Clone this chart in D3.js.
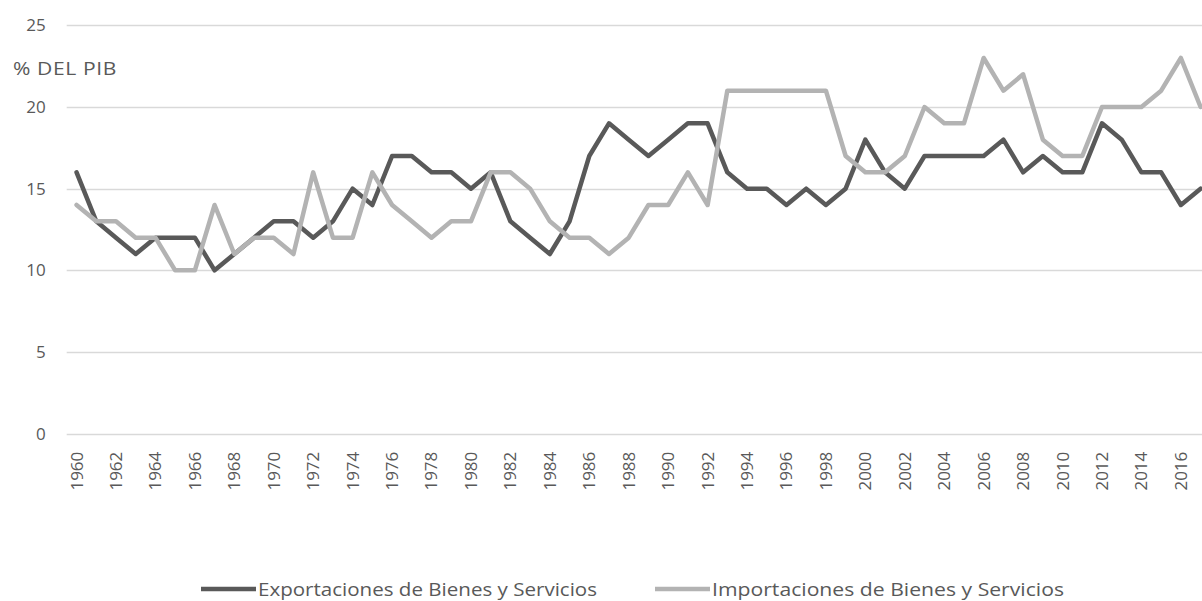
<!DOCTYPE html>
<html>
<head>
<meta charset="utf-8">
<script src="https://cdn.jsdelivr.net/npm/d3@7"></script>
<style>
  body { margin: 0; background: #fff; }
  svg { display: block; font-family: "Open Sans", "Noto Sans", sans-serif; }
</style>
</head>
<body>
<div id="chart"></div>
<script>
// Years on the category axis
const years = d3.range(1960, 2018);

// % del PIB
const exportaciones = [16, 13, 12, 11, 12, 12, 12, 10, 11, 12,
  13, 13, 12, 13, 15, 14, 17, 17, 16, 16,
  15, 16, 13, 12, 11, 13, 17, 19, 18, 17,
  18, 19, 19, 16, 15, 15, 14, 15, 14, 15,
  18, 16, 15, 17, 17, 17, 17, 18, 16, 17,
  16, 16, 19, 18, 16, 16, 14, 15];

const importaciones = [14, 13, 13, 12, 12, 10, 10, 14, 11, 12,
  12, 11, 16, 12, 12, 16, 14, 13, 12, 13,
  13, 16, 16, 15, 13, 12, 12, 11, 12, 14,
  14, 16, 14, 21, 21, 21, 21, 21, 21, 17,
  16, 16, 17, 20, 19, 19, 23, 21, 22, 18,
  17, 17, 20, 20, 20, 21, 23, 20];

const yTicks = [0, 5, 10, 15, 20, 25];
const seriesNames = ["Exportaciones de Bienes y Servicios", "Importaciones de Bienes y Servicios"];
const seriesColors = ["#595959", "#b3b3b3"];

const width = 1202, height = 601;
const plotLeft = 66.7;
const step = 19.72;

const svg = d3.select("#chart")
  .append("svg")
  .attr("width", width)
  .attr("height", height);

// scales
const x = d3.scaleBand()
  .domain(years)
  .range([plotLeft, plotLeft + step * years.length]);

const y = d3.scaleLinear()
  .domain([0, 25])
  .range([433.7, 25.3]);

// horizontal gridlines
svg.append("g")
  .selectAll("line")
  .data(yTicks)
  .enter()
  .append("line")
  .attr("x1", plotLeft)
  .attr("x2", plotLeft + step * years.length)
  .attr("y1", d => Math.round(y(d)) + 0.5)
  .attr("y2", d => Math.round(y(d)) + 0.5)
  .attr("stroke", "#d9d9d9")
  .attr("stroke-width", 1.3);

// y axis labels
const yAxis = svg.append("g")
  .attr("transform", `translate(${plotLeft - 21}, 0)`)
  .call(d3.axisLeft(y).tickValues(yTicks).tickSize(0).tickPadding(0));
yAxis.select(".domain").remove();
yAxis.selectAll("text")
  .attr("fill", "#595959")
  .style("font-size", "17px")
  .style("font-family", "'Open Sans', sans-serif");

// unit label
svg.append("text")
  .attr("x", 13)
  .attr("y", 75)
  .attr("fill", "#595959")
  .attr("textLength", 104)
  .attr("lengthAdjust", "spacingAndGlyphs")
  .style("font-size", "17.5px")
  .style("letter-spacing", "0.5px")
  .text("% DEL PIB");

// x axis labels (every second year)
const xAxis = svg.append("g")
  .attr("transform", `translate(0, ${y(0)})`)
  .call(d3.axisBottom(x).tickValues(years.filter(d => d % 2 === 0)).tickSize(0).tickPadding(0));
xAxis.select(".domain").remove();
xAxis.selectAll("text")
  .attr("fill", "#595959")
  .attr("text-anchor", "end")
  .attr("transform", "translate(0, 18) rotate(-90)")
  .attr("x", 0)
  .attr("y", 0)
  .attr("dy", "0.35em")
  .style("font-size", "17px")
  .style("font-family", "'Open Sans', sans-serif");

// lines
const line = d3.line()
  .x((d, i) => x(years[i]) + x.bandwidth() / 2)
  .y(d => y(d));

[exportaciones, importaciones].forEach((values, i) => {
  svg.append("path")
    .datum(values)
    .attr("fill", "none")
    .attr("stroke", seriesColors[i])
    .attr("stroke-width", 4.5)
    .attr("stroke-linejoin", "round")
    .attr("stroke-linecap", "round")
    .attr("d", line);
});

// legend
const legendX = [201, 655];
const legendTextLen = [339, 352];
const legend = svg.append("g");
seriesNames.forEach((name, i) => {
  legend.append("line")
    .attr("x1", legendX[i])
    .attr("x2", legendX[i] + 55)
    .attr("y1", 589)
    .attr("y2", 589)
    .attr("stroke", seriesColors[i])
    .attr("stroke-width", 4.5);
  legend.append("text")
    .attr("x", legendX[i] + 57)
    .attr("y", 595.5)
    .attr("fill", "#595959")
    .attr("textLength", legendTextLen[i])
    .attr("lengthAdjust", "spacingAndGlyphs")
    .style("font-size", "18px")
    .text(name);
});
</script>
</body>
</html>
